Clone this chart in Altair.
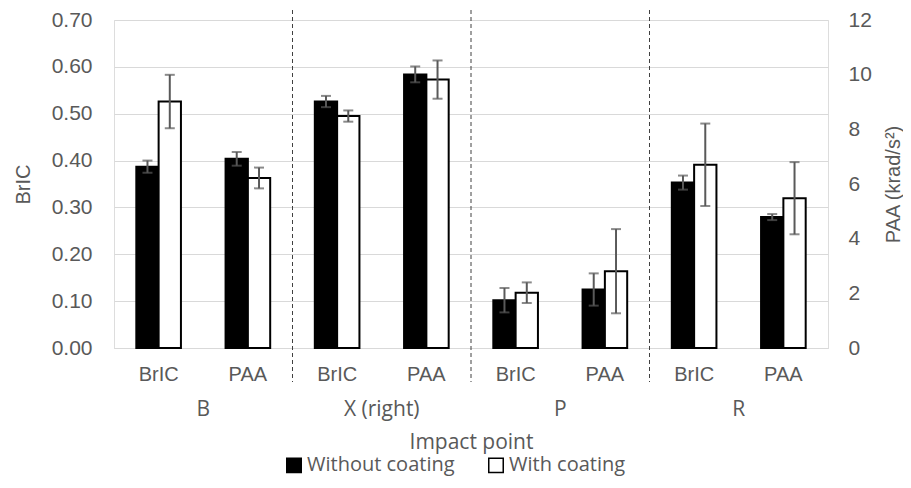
import altair as alt
import pandas as pd

groups = ["B", "X (right)", "P", "R"]
metrics = ["BrIC", "PAA"]
coatings = ["Without coating", "With coating"]

bric_without = [0.387, 0.526, 0.102, 0.353]
bric_without_err = [0.013, 0.012, 0.026, 0.015]
bric_with = [0.526, 0.495, 0.118, 0.391]
bric_with_err = [0.057, 0.012, 0.022, 0.088]

paa_without = [6.92, 10.01, 2.14, 4.79]
paa_without_err = [0.25, 0.29, 0.59, 0.11]
paa_with = [6.22, 9.82, 2.81, 5.48]
paa_with_err = [0.38, 0.70, 1.54, 1.32]

bric_ticks = [0.0, 0.1, 0.2, 0.3, 0.4, 0.5, 0.6, 0.7]
paa_ticks = [0, 2, 4, 6, 8, 10, 12]

W, H = 714, 328
AXIS_FONT = "Liberation Sans"
CAT_FONT = "Open Sans"
GRAY = "#595959"

cats = [f"{g}|{m}" for g in groups for m in metrics]


def rows(metric, without, without_err, with_, with_err):
    out = []
    for i, g in enumerate(groups):
        for c, v, e in ((coatings[0], without[i], without_err[i]), (coatings[1], with_[i], with_err[i])):
            out.append({"cat": f"{g}|{metric}", "coating": c, "value": v, "err": e})
    return pd.DataFrame(out)


bric_df = rows("BrIC", bric_without, bric_without_err, bric_with, bric_with_err)
paa_df = rows("PAA", paa_without, paa_without_err, paa_with, paa_with_err)

xscale = alt.Scale(domain=cats, paddingInner=0.5, paddingOuter=0.25)
xoff = alt.XOffset("coating:N", scale=alt.Scale(domain=coatings, paddingInner=0, paddingOuter=0), sort=coatings)
fill = alt.Fill(
    "coating:N",
    scale=alt.Scale(domain=coatings, range=["black", "white"]),
    legend=alt.Legend(
        title=None, orient="none", legendX=170, legendY=435, direction="horizontal",
        symbolType="square", symbolSize=210, symbolStrokeColor="black", symbolStrokeWidth=1.5,
        labelFont=CAT_FONT, labelFontSize=20, labelColor=GRAY, columnPadding=30, symbolOffset=0,
        labelOffset=3,
    ),
)


def metric_layer(df, yscale, yaxis, xaxis):
    base = alt.Chart(df).transform_calculate(
        lo="datum.value - datum.err", hi="datum.value + datum.err"
    ).encode(
        x=alt.X("cat:N", scale=xscale, sort=cats, axis=xaxis),
        xOffset=xoff,
    )
    y_main = alt.Y("value:Q", scale=yscale, axis=yaxis)
    bars = base.mark_bar(stroke="black", strokeWidth=2).encode(y=y_main, fill=fill)
    rule = base.mark_rule(color=GRAY, strokeWidth=2).encode(
        y=alt.Y("lo:Q", scale=yscale, axis=yaxis), y2="hi:Q"
    )
    cap_lo = base.mark_tick(color=GRAY, thickness=2, size=10).encode(y=alt.Y("lo:Q", scale=yscale, axis=yaxis))
    cap_hi = base.mark_tick(color=GRAY, thickness=2, size=10).encode(y=alt.Y("hi:Q", scale=yscale, axis=yaxis))
    return alt.layer(bars, rule, cap_lo, cap_hi)


left_axis = alt.Axis(
    title="BrIC", values=bric_ticks, format=".2f", grid=True, gridColor="#d9d9d9",
    domain=False, ticks=False, labelFont=AXIS_FONT, labelFontSize=21, labelColor=GRAY,
    labelPadding=22, titleFont=AXIS_FONT, titleFontSize=20, titleColor=GRAY,
    titleFontWeight="normal", titlePadding=18,
)
right_axis = alt.Axis(
    title="PAA (krad/s²)", orient="right", values=paa_ticks, format="d", grid=False,
    domain=False, ticks=False, labelFont=AXIS_FONT, labelFontSize=21, labelColor=GRAY,
    labelPadding=20, titleFont=AXIS_FONT, titleFontSize=20, titleColor=GRAY,
    titleFontWeight="normal", titlePadding=32, titleAngle=270,
)
bottom_axis = alt.Axis(
    title="Impact point", labelExpr="split(datum.label, '|')[1]", labelAngle=0,
    ticks=False, domain=True, domainColor="#d9d9d9", domainWidth=1,
    labelFont=AXIS_FONT, labelFontSize=20, labelColor=GRAY, labelPadding=16,
    titleFont=CAT_FONT, titleFontSize=21, titleColor=GRAY, titleFontWeight="normal",
    titlePadding=47,
)

bric_layer = metric_layer(bric_df, alt.Scale(domain=[0, 0.7], nice=False), left_axis, bottom_axis)
paa_layer = metric_layer(paa_df, alt.Scale(domain=[0, 12], nice=False), right_axis, None)

div_df = pd.DataFrame({"pos": [1, 2, 3]})
qx = alt.Scale(domain=[0, len(groups)], nice=False, zero=False)
dividers = alt.Chart(div_df).mark_rule(color="#404040", strokeDash=[4, 3], strokeWidth=1).encode(
    x=alt.X("pos:Q", scale=qx, axis=None), y=alt.value(-10), y2=alt.value(H + 34)
)
lab_df = pd.DataFrame({"group": groups, "idx": list(range(len(groups)))})
group_labels = alt.Chart(lab_df).transform_calculate(pos="datum.idx + 0.5").mark_text(
    font=CAT_FONT, fontSize=21, color=GRAY, baseline="alphabetic"
).encode(x=alt.X("pos:Q", scale=qx, axis=None), y=alt.value(H + 68), text="group:N")

chart = alt.layer(bric_layer, paa_layer, dividers, group_labels).resolve_scale(
    y="independent", x="independent"
).properties(
    width=W, height=H,
    autosize=alt.AutoSizeParams(type="none"),
    padding={"left": 106, "top": 12, "right": 75, "bottom": 132},
).configure_view(stroke=None).configure(background="white")

chart.save("out.html", embed_options={"renderer": "svg", "actions": False})
